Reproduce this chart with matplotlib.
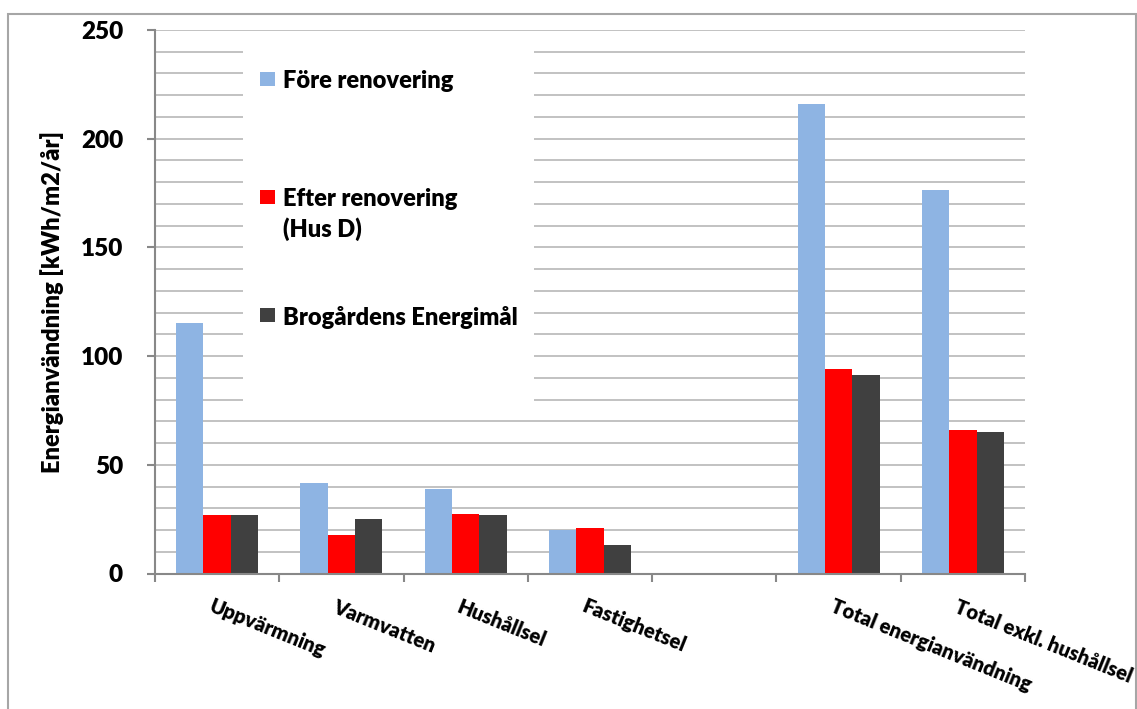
import numpy as np
import matplotlib
matplotlib.use("Agg")
import matplotlib.pyplot as plt
from matplotlib import font_manager as fm
from matplotlib.patches import Rectangle


def heavy_font(family, target=800):
    # pick the upright face of a family whose weight is nearest the target
    best = None
    for f in fm.fontManager.ttflist:
        if f.name == family and f.style == 'normal':
            w = f.weight if isinstance(f.weight, int) else 700
            score = abs(w - target)
            if best is None or score < best[0]:
                best = (score, f.fname)
    if best is None:
        return fm.FontProperties(family='DejaVu Sans', weight='bold')
    return fm.FontProperties(fname=best[1])


BOLD = heavy_font('Lato')


def fp(size):
    p = BOLD.copy()
    p.set_size(size)
    return p


# Energy use per category, kWh/m2/year (blank slot separates the totals)
categories = ["Uppvärmning", "Varmvatten", "Hushållsel", "Fastighetsel", "",
              "Total energianvändning", "Total exkl. hushållsel"]
fore_renovering = [115, 41.5, 39, 20, np.nan, 216, 176.5]
efter_renovering = [27, 17.5, 27.5, 21, np.nan, 94, 66]
energimal = [27, 25, 27, 13, np.nan, 91.5, 65]

series_labels = ["Före renovering", "Efter renovering\n(Hus D)", "Brogårdens Energimål"]
series_colors = ["#8EB4E3", "#FF0000", "#404040"]
y_ticks = [0, 50, 100, 150, 200, 250]

W, H = 1137, 709
fig = plt.figure(figsize=(W / 100, H / 100), dpi=100)
ax = fig.add_axes([155 / W, 135.5 / H, 870 / W, 543.5 / H])

x = np.arange(len(categories))
bw = 0.22
for i, (vals, col) in enumerate(zip([fore_renovering, efter_renovering, energimal], series_colors)):
    ax.bar(x + (i - 1) * bw, vals, width=bw, color=col, zorder=3)

ax.set_xlim(-0.5, len(categories) - 0.5)
ax.set_ylim(0, 250)
ax.set_yticks(y_ticks)
ax.set_yticklabels([str(t) for t in y_ticks], fontproperties=fp(17.5))
ax.set_yticks(np.arange(0, 251, 10), minor=True)
ax.tick_params(axis='y', which='minor', length=0)
ax.tick_params(axis='y', which='major', length=6, width=1.5, color='#888888', pad=17)
ax.grid(axis='y', which='both', color='#BDBDBD', linewidth=1.3, zorder=0)
ax.set_axisbelow(True)

ax.set_xticks(np.arange(-0.5, len(categories), 1.0))
ax.set_xticklabels([])
ax.tick_params(axis='x', length=6, width=1.5, color='#888888')

for sp in ['top', 'right']:
    ax.spines[sp].set_visible(False)
for sp in ['left', 'bottom']:
    ax.spines[sp].set_color('#888888')
    ax.spines[sp].set_linewidth(1.5)
    ax.spines[sp].set_zorder(4)

# rotated category labels
for xi, lab in zip(x, categories):
    if lab:
        ax.text(xi - 0.03, -0.043, lab, transform=ax.get_xaxis_transform(),
                rotation=-22, rotation_mode='anchor', ha='left', va='top',
                fontproperties=fp(14.6))

ax.set_ylabel("Energianvändning [kWh/m2/år]", fontproperties=fp(17), labelpad=12)

# legend panel drawn over the gridlines
def fx(px):
    return px / W

def fy(py):
    return 1 - py / H

fig.patches.append(Rectangle((fx(243), fy(410)), fx(534) - fx(243), fy(35) - fy(410),
                             transform=fig.transFigure, facecolor='white',
                             edgecolor='none', zorder=2))
leg_rows = [79, 197, 315]
for lab, col, yc in zip(series_labels, series_colors, leg_rows):
    fig.patches.append(Rectangle((fx(260), fy(yc + 7)), fx(15), 14 / H,
                                 transform=fig.transFigure, facecolor=col,
                                 edgecolor='none', zorder=3))
    fig.text(fx(283), fy(yc - 9), lab, ha='left', va='top', fontproperties=fp(17),
             linespacing=1.35, zorder=4)

# outer chart frame
fig.patches.append(Rectangle((fx(8), -0.05), fx(1136) - fx(8), fy(14) + 0.05,
                             transform=fig.transFigure, facecolor='none',
                             edgecolor='#A6A6A6', linewidth=1.5, zorder=5))

fig.savefig("out.png", dpi=100)
